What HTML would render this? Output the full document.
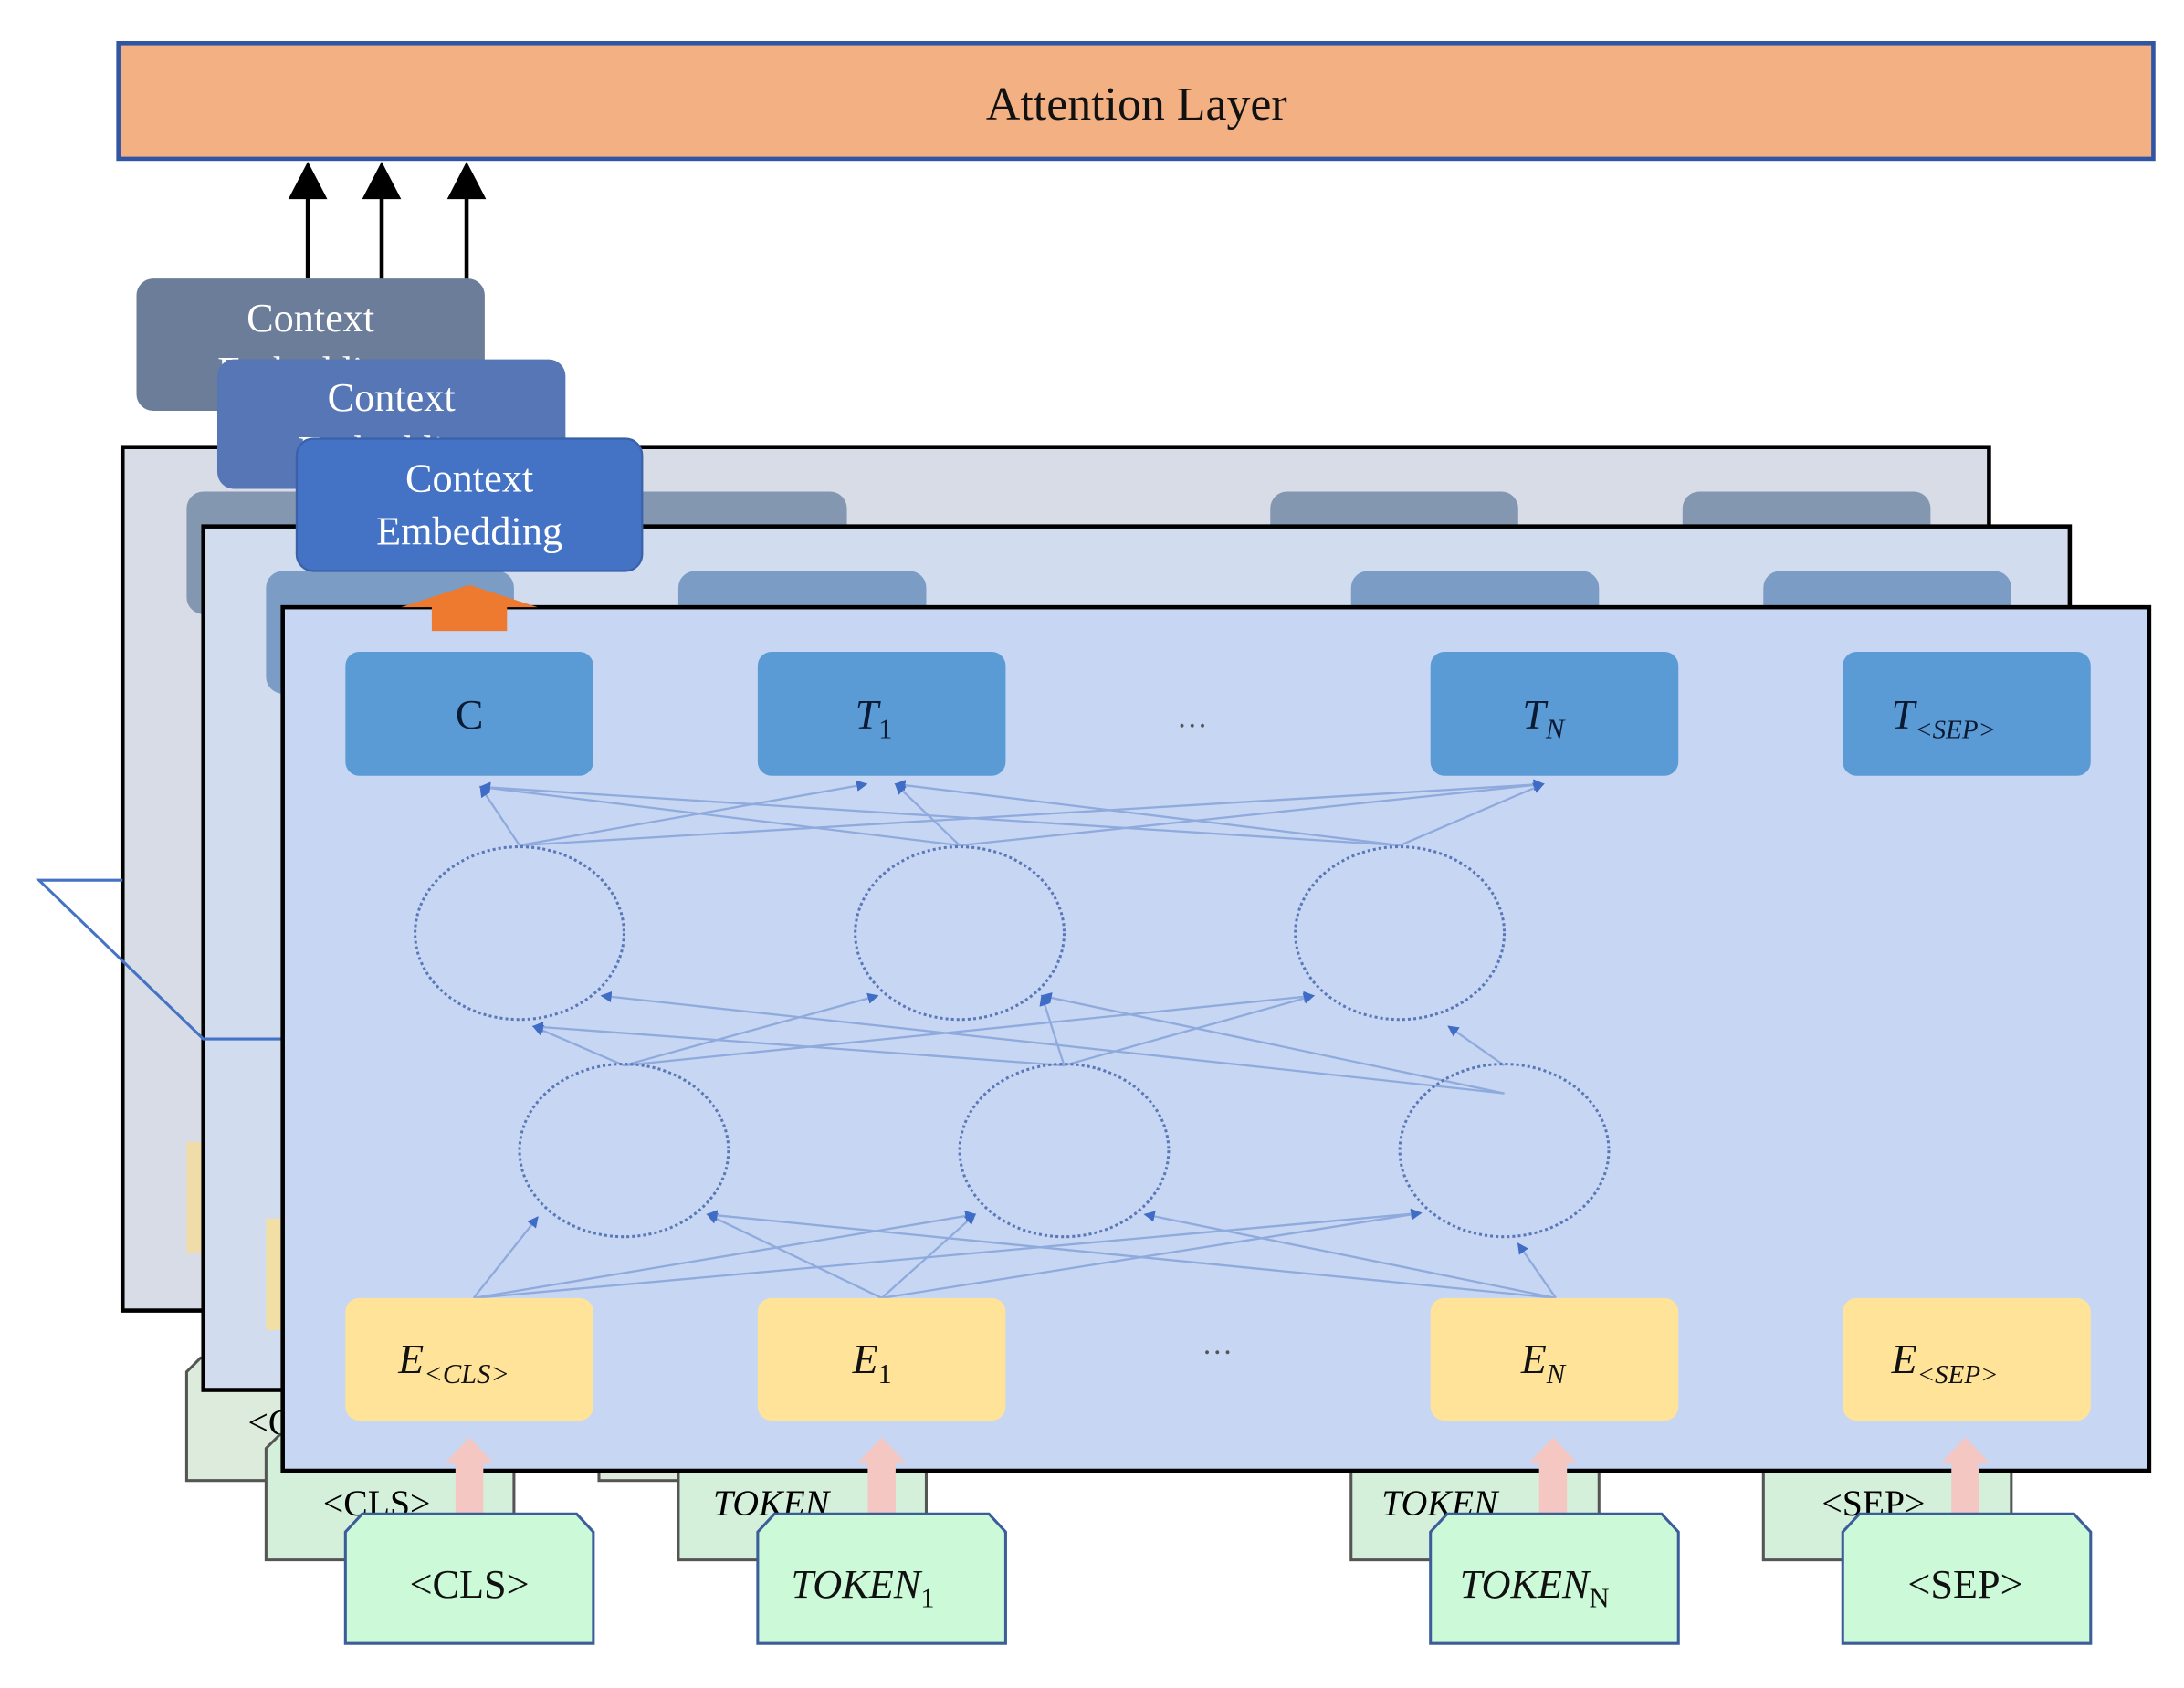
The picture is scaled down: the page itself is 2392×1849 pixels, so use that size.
<!DOCTYPE html>
<html><head><meta charset="utf-8"><style>html,body{margin:0;padding:0;background:#fff}svg{display:block}</style></head>
<body>
<svg width="2392" height="1849" viewBox="0 0 1568 1212" preserveAspectRatio="none" xmlns="http://www.w3.org/2000/svg" font-family="'Liberation Serif', serif">
<defs>
<marker id="ah" markerWidth="8" markerHeight="8" refX="7" refY="4" orient="auto" markerUnits="userSpaceOnUse"><path d="M0,0 L8,4 L0,8 z" fill="#3F6CC4"/></marker>
</defs>
<!-- Attention layer -->
<rect x="85" y="31" width="1461" height="83" fill="#F3B183" stroke="#2F55A4" stroke-width="3"/>
<text x="816" y="86" font-size="34" text-anchor="middle" fill="#111">Attention Layer</text>
<!-- black arrows -->
<g stroke="#000" stroke-width="3"><line x1="221" y1="200" x2="221" y2="140"/><line x1="274" y1="258" x2="274" y2="140"/><line x1="335" y1="315" x2="335" y2="140"/></g>
<g fill="#000"><path d="M207,143 L221,116 L235,143z"/><path d="M260,143 L274,116 L288,143z"/><path d="M321,143 L335,116 L349,143z"/></g>
<!-- back panel 1 -->
<rect x="88" y="321" width="1340" height="620" fill="#D7DCE6" stroke="#000" stroke-width="3"/>
<g fill="#8497B0"><rect x="134" y="353" width="474" height="88" rx="12"/><rect x="912" y="353" width="178" height="60" rx="12"/><rect x="1208" y="353" width="178" height="60" rx="12"/></g>
<rect x="134" y="820" width="20" height="80" fill="#F0DCA8"/>
<!-- back tokens -->
<path d="M134,985 L144,975 L300,975 L300,1063 L134,1063z" fill="#DDEBDD" stroke="#555" stroke-width="2"/>
<text x="178" y="1030" font-size="26">&lt;C</text>
<path d="M191,1040 L201,1030 L369,1030 L369,1120 L191,1120z" fill="#D5F0DA" stroke="#555" stroke-width="2"/>
<text x="232" y="1088" font-size="26">&lt;CLS&gt;</text>
<rect x="430" y="1040" width="60" height="23" fill="#DDEBDD" stroke="#555" stroke-width="2"/>
<rect x="487" y="1040" width="178" height="80" fill="#D5F0DA" stroke="#555" stroke-width="2"/>
<text x="512" y="1088" font-size="26" font-style="italic">TOKEN</text>
<rect x="970" y="1040" width="178" height="80" fill="#D5F0DA" stroke="#555" stroke-width="2"/>
<text x="992" y="1088" font-size="26" font-style="italic">TOKEN</text>
<rect x="1266" y="1040" width="178" height="80" fill="#D5F0DA" stroke="#555" stroke-width="2"/>
<text x="1308" y="1088" font-size="26">&lt;SEP&gt;</text>
<!-- panel 2 -->
<rect x="146" y="378" width="1340" height="620" fill="#D2DCEF" stroke="#000" stroke-width="3"/>
<g fill="#7B9CC4"><rect x="191" y="410" width="178" height="88" rx="12"/><rect x="487" y="410" width="178" height="60" rx="12"/><rect x="970" y="410" width="178" height="60" rx="12"/><rect x="1266" y="410" width="178" height="60" rx="12"/></g>
<rect x="191" y="875" width="20" height="80" fill="#F2DFA6"/>
<!-- left blue line -->
<polyline points="88,632 28,632 146,746 203,746" fill="none" stroke="#4472C4" stroke-width="2"/>
<!-- context boxes -->
<rect x="98" y="200" width="250" height="95" rx="12" fill="#6C7D99"/>
<text x="223" y="238" font-size="29" text-anchor="middle" fill="#fff">Context</text>
<text x="223" y="276" font-size="29" text-anchor="middle" fill="#fff">Embedding</text>
<rect x="156" y="258" width="250" height="93" rx="12" fill="#5776B5"/>
<text x="281" y="295" font-size="29" text-anchor="middle" fill="#fff">Context</text>
<text x="281" y="333" font-size="29" text-anchor="middle" fill="#fff">Embedding</text>
<rect x="213" y="315" width="248" height="95" rx="12" fill="#4472C4" stroke="#3A62AA" stroke-width="1.5"/>
<text x="337" y="353" font-size="29" text-anchor="middle" fill="#fff">Context</text>
<text x="337" y="391" font-size="29" text-anchor="middle" fill="#fff">Embedding</text>
<!-- panel 3 -->
<rect x="203" y="436" width="1340" height="620" fill="#C7D6F3" stroke="#000" stroke-width="3"/>
<!-- orange arrow -->
<path d="M310,453 L310,436 L288,436 L337,420 L386,436 L364,436 L364,453z" fill="#EE7A30"/>
<!-- T boxes -->
<g fill="#5B9BD5"><rect x="248" y="468" width="178" height="89" rx="10"/><rect x="544" y="468" width="178" height="89" rx="10"/><rect x="1027" y="468" width="178" height="89" rx="10"/><rect x="1323" y="468" width="178" height="89" rx="10"/></g>
<g fill="#0B1A33" font-size="30"><text x="337" y="523" text-anchor="middle">C</text>
<text x="614" y="523" font-style="italic">T<tspan font-size="20" dy="7" font-style="normal">1</tspan></text>
<text x="1093" y="523" font-style="italic">T<tspan font-size="20" dy="7">N</tspan></text>
<text x="1358" y="523" font-style="italic">T<tspan font-size="19" dy="7">&lt;SEP&gt;</tspan></text></g>
<text x="856" y="522" font-size="22" text-anchor="middle" fill="#555">…</text>
<text x="874" y="972" font-size="22" text-anchor="middle" fill="#555">…</text>
<!-- connections -->
<g stroke="#8FAADC" stroke-width="1.5" marker-end="url(#ah)" fill="none">
<line x1="373" y1="607" x2="345" y2="565"/><line x1="373" y1="607" x2="622" y2="563"/><line x1="373" y1="607" x2="1108" y2="563"/>
<line x1="689" y1="607" x2="643" y2="563"/><line x1="689" y1="607" x2="345" y2="565"/><line x1="689" y1="607" x2="1108" y2="563"/>
<line x1="1005" y1="607" x2="1108" y2="563"/><line x1="1005" y1="607" x2="643" y2="563"/><line x1="1005" y1="607" x2="345" y2="565"/>
<line x1="448" y1="765" x2="383" y2="737"/><line x1="448" y1="765" x2="630" y2="715"/><line x1="448" y1="765" x2="943" y2="715"/>
<line x1="764" y1="765" x2="748" y2="715"/><line x1="764" y1="765" x2="943" y2="715"/><line x1="764" y1="765" x2="383" y2="737"/>
<line x1="1080" y1="765" x2="1040" y2="737"/><line x1="1080" y1="785" x2="432" y2="715"/><line x1="1080" y1="785" x2="748" y2="715"/>
<line x1="340" y1="932" x2="386" y2="874"/><line x1="340" y1="932" x2="700" y2="872"/><line x1="340" y1="932" x2="1020" y2="871"/>
<line x1="633" y1="932" x2="508" y2="872"/><line x1="633" y1="932" x2="700" y2="872"/><line x1="633" y1="932" x2="1020" y2="871"/>
<line x1="1117" y1="932" x2="1090" y2="893"/><line x1="1117" y1="932" x2="822" y2="872"/><line x1="1117" y1="932" x2="508" y2="872"/>
</g>
<!-- circles -->
<g fill="none" stroke="#5A78B8" stroke-width="2" stroke-dasharray="2,2">
<ellipse cx="373" cy="670" rx="75" ry="62"/><ellipse cx="689" cy="670" rx="75" ry="62"/><ellipse cx="1005" cy="670" rx="75" ry="62"/>
<ellipse cx="448" cy="826" rx="75" ry="62"/><ellipse cx="764" cy="826" rx="75" ry="62"/><ellipse cx="1080" cy="826" rx="75" ry="62"/>
</g>
<!-- E boxes -->
<g fill="#FFE399"><rect x="248" y="932" width="178" height="88" rx="10"/><rect x="544" y="932" width="178" height="88" rx="10"/><rect x="1027" y="932" width="178" height="88" rx="10"/><rect x="1323" y="932" width="178" height="88" rx="10"/></g>
<g fill="#111" font-size="30" font-style="italic">
<text x="286" y="986">E<tspan font-size="20" dy="7">&lt;CLS&gt;</tspan></text>
<text x="612" y="986">E<tspan font-size="20" dy="7" font-style="normal">1</tspan></text>
<text x="1092" y="986">E<tspan font-size="20" dy="7">N</tspan></text>
<text x="1358" y="986">E<tspan font-size="19" dy="7">&lt;SEP&gt;</tspan></text></g>
<!-- pink arrows -->
<g fill="#F4C7C3">
<path d="M327,1092 L327,1050 L320,1050 L337,1032 L354,1050 L347,1050 L347,1092z"/>
<path d="M623,1092 L623,1050 L616,1050 L633,1032 L650,1050 L643,1050 L643,1092z"/>
<path d="M1105,1092 L1105,1050 L1098,1050 L1115,1032 L1132,1050 L1125,1050 L1125,1092z"/>
<path d="M1401,1092 L1401,1050 L1394,1050 L1411,1032 L1428,1050 L1421,1050 L1421,1092z"/>
</g>
<!-- front tokens -->
<g fill="#CCFAD8" stroke="#3B5E9A" stroke-width="2">
<path d="M248,1180 L248,1100 L260,1087 L414,1087 L426,1100 L426,1180z"/>
<path d="M544,1180 L544,1100 L556,1087 L710,1087 L722,1100 L722,1180z"/>
<path d="M1027,1180 L1027,1100 L1039,1087 L1193,1087 L1205,1100 L1205,1180z"/>
<path d="M1323,1180 L1323,1100 L1335,1087 L1489,1087 L1501,1100 L1501,1180z"/>
</g>
<g fill="#111" font-size="29">
<text x="337" y="1147" text-anchor="middle">&lt;CLS&gt;</text>
<text x="568" y="1147" font-style="italic">TOKEN<tspan font-size="20" dy="7" font-style="normal">1</tspan></text>
<text x="1048" y="1147" font-style="italic">TOKEN<tspan font-size="20" dy="7" font-style="normal">N</tspan></text>
<text x="1411" y="1147" text-anchor="middle">&lt;SEP&gt;</text>
</g>
</svg>
</body></html>
